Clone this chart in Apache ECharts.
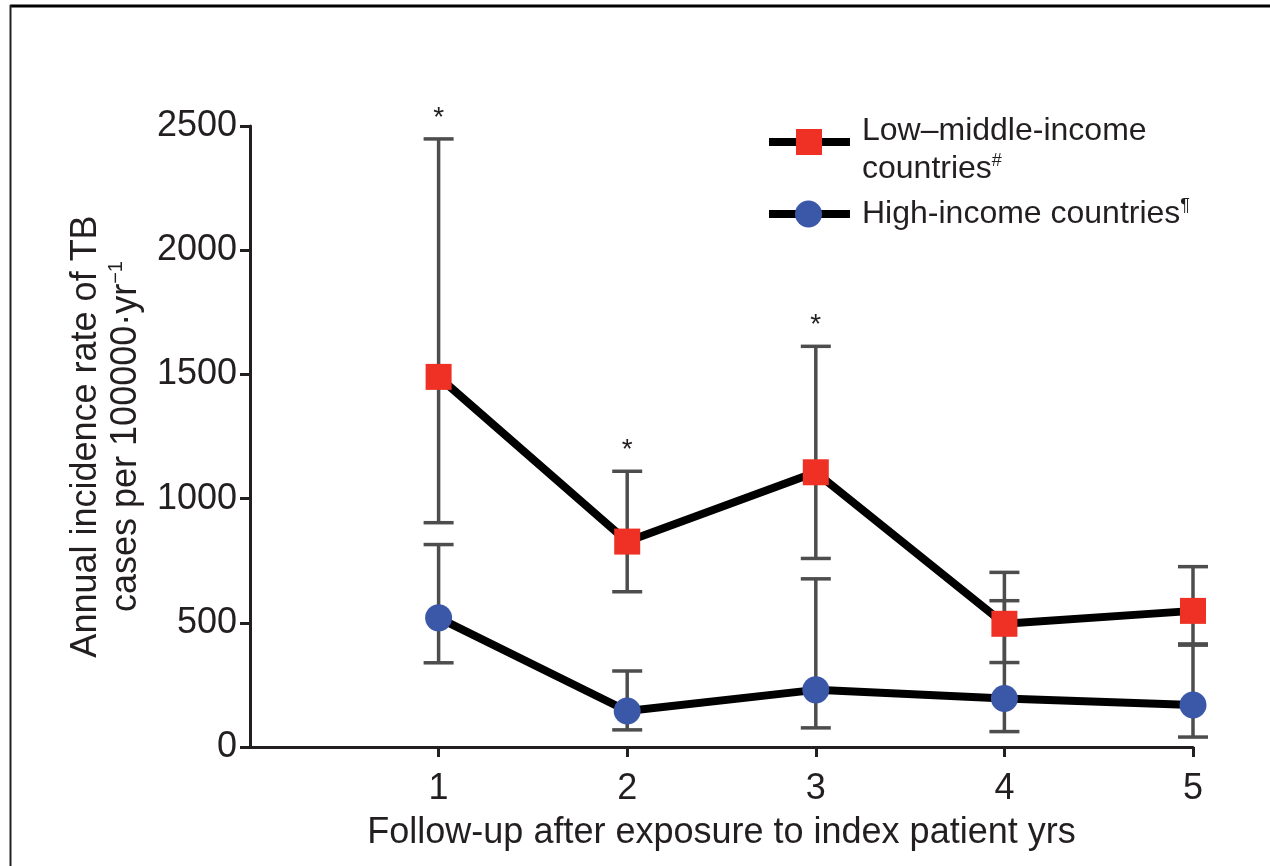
<!DOCTYPE html>
<html>
<head>
<meta charset="utf-8">
<script src="https://cdn.jsdelivr.net/npm/echarts@6/dist/echarts.min.js"></script>
<style>html,body{margin:0;padding:0;background:#fff;}#chart{width:1270px;height:866px;}</style>
</head>
<body>
<div id="chart"></div>
<script>
// ---- data ----
const years = [1, 2, 3, 4, 5];
const lowMidMean  = [1490, 827, 1106, 496, 548];
const lowMidUpper = [2448, 1110, 1613, 703, 726];
const lowMidLower = [903, 625, 759, 340, 415];
const highMean  = [520, 145, 230, 195, 169];
const highUpper = [815, 306, 677, 589, 410];
const highLower = [339, 69, 77, 62, 40];
const lowMidStars = ['*', '*', '*', '', ''];
const highStars = ['', '', '', '', ''];
const yTicks = [0, 500, 1000, 1500, 2000, 2500];
const seriesNames = ['Low–middle-income countries#', 'High-income countries¶'];

const FONT = '"Liberation Sans", Arial, sans-serif';
const TXT = '#231f20';

function errData(lo, hi) { return years.map((x, i) => [x, lo[i], hi[i]]); }
function errSeries(lo, hi, stars) {
  return {
    type: 'custom', z: 1, silent: true,
    data: errData(lo, hi),
    renderItem: function (params, api) {
      const x = api.value(0);
      const top = api.coord([x, api.value(2)]);
      const bot = api.coord([x, api.value(1)]);
      const hw = 15;
      const st = { stroke: '#4d4d4d', lineWidth: 3.5 };
      const ch = [
        { type: 'line', shape: { x1: top[0], y1: top[1], x2: bot[0], y2: bot[1] }, style: st },
        { type: 'line', shape: { x1: top[0] - hw, y1: top[1], x2: top[0] + hw, y2: top[1] }, style: st },
        { type: 'line', shape: { x1: bot[0] - hw, y1: bot[1], x2: bot[0] + hw, y2: bot[1] }, style: st }
      ];
      const s = stars[params.dataIndex];
      if (s) {
        ch.push({ type: 'text', x: top[0], y: top[1] - 21,
          style: { text: s, fontSize: 28, fontFamily: FONT, fill: TXT, align: 'center', verticalAlign: 'middle' } });
      }
      return { type: 'group', children: ch };
    }
  };
}

const chart = echarts.init(document.getElementById('chart'));
const option = {
  backgroundColor: '#fff',
  animation: false,
  grid: { left: 250, right: 77, top: 126, bottom: 119, containLabel: false },
  xAxis: {
    type: 'value', min: 0, max: 5, interval: 1,
    name: 'Follow-up after exposure to index patient yrs',
    nameLocation: 'middle', nameGap: 68,
    nameTextStyle: { fontSize: 36, fontFamily: FONT, color: TXT },
    axisLine: { show: true, lineStyle: { color: TXT, width: 3 } },
    axisTick: { show: true, length: 10, lineStyle: { color: TXT, width: 3 }, customValues: years },
    axisLabel: { fontSize: 36, fontFamily: FONT, color: TXT, margin: 24, customValues: years },
    splitLine: { show: false }
  },
  yAxis: {
    type: 'value', min: 0, max: 2500, interval: 500,
    name: 'Annual incidence rate of TB\ncases per 100000·yr{sup|−1}',
    nameLocation: 'middle', nameGap: 95, nameRotate: 90,
    nameTextStyle: { fontSize: 36, fontFamily: FONT, color: TXT, lineHeight: 40,
      rich: { sup: { fontSize: 20, fontFamily: FONT, color: TXT, verticalAlign: 'top', lineHeight: 40, padding: [0, 0, 16, 0] } } },
    axisLine: { show: true, lineStyle: { color: TXT, width: 3 } },
    axisTick: { show: true, length: 10, lineStyle: { color: TXT, width: 3 } },
    axisLabel: { fontSize: 36, fontFamily: FONT, color: TXT, margin: 13, formatter: v => yTicks.includes(v) ? String(v) : '' },
    splitLine: { show: false }
  },
  series: [
    errSeries(lowMidLower, lowMidUpper, lowMidStars),
    errSeries(highLower, highUpper, highStars),
    {
      name: seriesNames[0], type: 'line', z: 3,
      data: years.map((x, i) => [x, lowMidMean[i]]),
      symbol: 'rect', symbolSize: 26,
      itemStyle: { color: '#ee3124' },
      lineStyle: { color: '#000', width: 8 }
    },
    {
      name: seriesNames[1], type: 'line', z: 3,
      data: years.map((x, i) => [x, highMean[i]]),
      symbol: 'circle', symbolSize: 27,
      itemStyle: { color: '#3b57a8' },
      lineStyle: { color: '#000', width: 8 }
    }
  ],
  graphic: [
    // frame
    { type: 'line', shape: { x1: 10, y1: 6, x2: 1270, y2: 6 }, style: { stroke: '#000', lineWidth: 3 } },
    { type: 'line', shape: { x1: 10.5, y1: 5, x2: 10.5, y2: 866 }, style: { stroke: '#222', lineWidth: 2 } },
    { type: 'circle', shape: { cx: -18, cy: 890, r: 30 }, style: { fill: '#8a9a2a' } },
    // legend
    { type: 'line', shape: { x1: 769, y1: 142, x2: 850, y2: 142 }, style: { stroke: '#000', lineWidth: 8 } },
    { type: 'rect', shape: { x: 796, y: 129, width: 26, height: 26 }, style: { fill: '#ee3124' } },
    { type: 'text', x: 862, y: 131, style: { text: 'Low–middle-income', fontSize: 32, fontFamily: FONT, fill: TXT, verticalAlign: 'middle' } },
    { type: 'text', x: 862, y: 169, style: { text: 'countries{sup|#}', fontSize: 32, fontFamily: FONT, fill: TXT, verticalAlign: 'middle',
      rich: { sup: { fontSize: 18, fontFamily: FONT, fill: TXT, verticalAlign: 'top', padding: [0, 0, 16, 0] } } } },
    { type: 'line', shape: { x1: 769, y1: 214, x2: 850, y2: 214 }, style: { stroke: '#000', lineWidth: 8 } },
    { type: 'circle', shape: { cx: 808.5, cy: 214, r: 13.5 }, style: { fill: '#3b57a8' } },
    { type: 'text', x: 862, y: 214, style: { text: 'High-income countries{sup|¶}', fontSize: 32, fontFamily: FONT, fill: TXT, verticalAlign: 'middle',
      rich: { sup: { fontSize: 18, fontFamily: FONT, fill: TXT, verticalAlign: 'top', padding: [0, 0, 16, 0] } } } }
  ]
};
chart.setOption(option);
</script>
</body>
</html>
